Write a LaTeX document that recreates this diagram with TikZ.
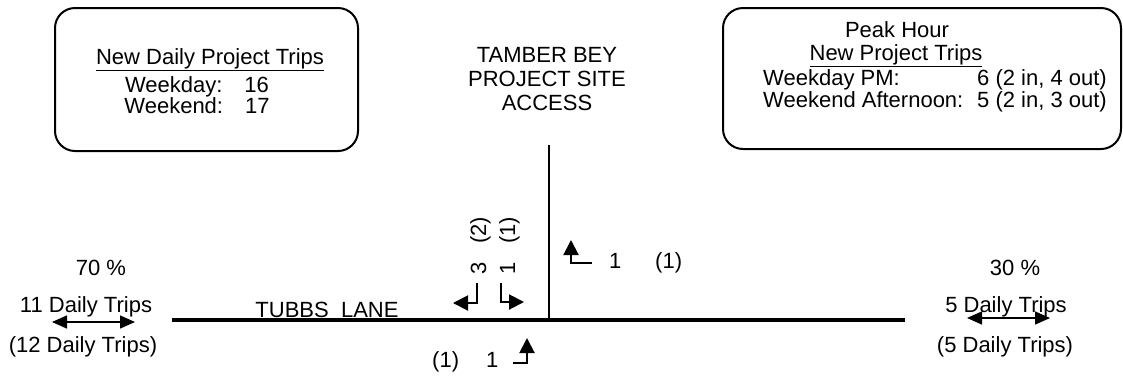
\documentclass[tikz,border=0pt]{standalone}
\usepackage{fontspec}
\setmainfont{Liberation Sans}
\usetikzlibrary{arrows.meta}
% heading underline, set a little lower and heavier than \underline
\newcommand{\headrule}[1]{\setbox0\hbox{#1}\rlap{\rule[-7pt]{\wd0}{1.5pt}}\box0}
\begin{document}
\begin{tikzpicture}[x=1pt,y=-1pt,
  txt/.style={inner sep=0pt, anchor=base, font=\fontsize{22}{24}\selectfont},
  infobox/.style={draw, line width=2pt, rounded corners=20pt, inner sep=0pt},
  mainroad/.style={line width=3.6pt},
  accessroad/.style={line width=2pt},
  turn/.style={line width=2pt, -{Triangle[length=15pt,width=15pt]}},
  split/.style={line width=1.5pt, {Triangle[length=15pt,width=13pt]}-{Triangle[length=15pt,width=13pt]}}
]
\useasboundingbox (0,0) rectangle (1123,376);

% information boxes
\node[infobox, minimum width=303pt, minimum height=143pt] (dailybox) at (206.5,79.5) {};
\node[infobox, minimum width=398pt, minimum height=141pt] (peakbox) at (922,78.5) {};

% daily trips
\node[txt] (dailyhead) at (210,64) {\headrule{New Daily Project Trips}};
\node[txt] (dailywkday) at (197,92) {Weekday:\hspace{22pt}16};
\node[txt] (dailywkend) at (197,113) {Weekend:\hspace{22pt}17};

% peak hour trips
\node[txt] (peakhead) at (897,37) {Peak Hour};
\node[txt] (peaksub) at (896,60) {\headrule{New Project Trips}};
\node[txt, anchor=base west] (pmlabel) at (763,85) {Weekday PM:};
\node[txt, anchor=base east] (pmvalue) at (1107,85) {6 (2 in, 4 out)};
\node[txt, anchor=base west] (aftlabel) at (763,107) {Weekend Afternoon:};
\node[txt, anchor=base east] (aftvalue) at (1107,107) {5 (2 in, 3 out)};

% site access label
\node[txt] (site1) at (547,62) {TAMBER BEY};
\node[txt] (site2) at (547,86) {PROJECT SITE};
\node[txt] (site3) at (547,110) {ACCESS};

% roads
\coordinate (roadW) at (172,320);
\coordinate (roadE) at (905,320);
\coordinate (junction) at (549,320);
\coordinate (accessN) at (549,145);
\draw[mainroad] (roadW) -- (roadE);
\draw[accessroad] (accessN) -- (junction);
\node[txt] (lane) at (327,317) {TUBBS\ \ LANE};

% west distribution
\node[txt] (wpct) at (101,275) {70 \%};
\node[txt] (wdaily) at (86,312) {11 Daily Trips};
\node[txt] (wwkend) at (83,352) {(12 Daily Trips)};
\coordinate (wa) at (52,322);
\coordinate (wb) at (135,322);
\draw[split] (wa) -- (wb);

% east distribution
\node[txt] (epct) at (1015,275) {30 \%};
\node[txt] (edaily) at (1006,312) {5 Daily Trips};
\node[txt] (ewkend) at (1005,352) {(5 Daily Trips)};
\coordinate (ea) at (967,318);
\coordinate (eb) at (1050,318);
\draw[split] (ea) -- (eb);

% turning movements out of the access
\coordinate (ltA) at (477,283);
\coordinate (ltB) at (477,303);
\coordinate (ltC) at (453,303);
\draw[turn] (ltA) -- (ltB) -- (ltC);
\coordinate (rtA) at (501,283);
\coordinate (rtB) at (501,302);
\coordinate (rtC) at (524,302);
\draw[turn] (rtA) -- (rtB) -- (rtC);
\node[txt, rotate=90, anchor=base west] (ltvol) at (486,275) {3\hspace{19pt}(2)};
\node[txt, rotate=90, anchor=base west] (rtvol) at (515,275) {1\hspace{19pt}(1)};

% turning movements into the access
\coordinate (inSa) at (513,363);
\coordinate (inSb) at (527,363);
\coordinate (inSc) at (527,338);
\draw[turn] (inSa) -- (inSb) -- (inSc);
\node[txt, anchor=base west] (inSpk) at (432,367) {(1)};
\node[txt, anchor=base west] (inSvol) at (486,367) {1};

\coordinate (inEa) at (592,263);
\coordinate (inEb) at (571,263);
\coordinate (inEc) at (571,240);
\draw[turn] (inEa) -- (inEb) -- (inEc);
\node[txt, anchor=base west] (inEvol) at (609,268) {1};
\node[txt, anchor=base west] (inEpk) at (655,268) {(1)};
\end{tikzpicture}
\end{document}
